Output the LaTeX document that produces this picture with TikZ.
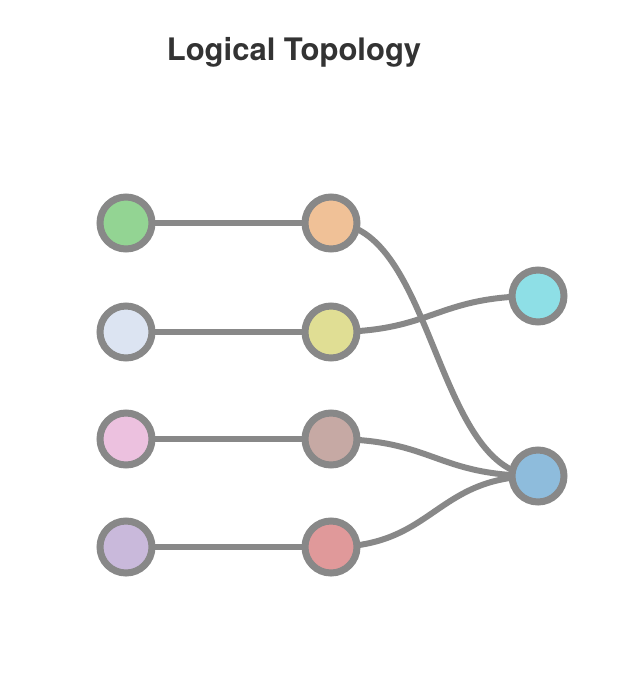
\documentclass[tikz,border=0pt]{standalone}
\usepackage{fontspec}
\setmainfont{TeX Gyre Heros}
\usetikzlibrary{backgrounds}
\definecolor{edgegray}{HTML}{888888}
\definecolor{titlegray}{HTML}{333333}
\definecolor{cgreen}{HTML}{93D493}
\definecolor{corange}{HTML}{F0C197}
\definecolor{clblue}{HTML}{DCE4F2}
\definecolor{cyellow}{HTML}{E0DE94}
\definecolor{cpink}{HTML}{ECC1DF}
\definecolor{cbrown}{HTML}{C6A9A4}
\definecolor{clav}{HTML}{C9B9DB}
\definecolor{cred}{HTML}{E0999A}
\definecolor{ccyan}{HTML}{8EDFE6}
\definecolor{cblue}{HTML}{8EBCDC}
\begin{document}
\begin{tikzpicture}[x=1pt,y=1pt,
  topo/.style={circle,draw=edgegray,line width=7pt,minimum size=52pt,inner sep=0pt},
  link/.style={draw=edgegray,line width=6pt}]
\useasboundingbox (0,0) rectangle (628,-678);
\node[anchor=base,font=\bfseries\fontsize{31}{36}\selectfont,text=titlegray] (title) at (294,-60) {Logical Topology};
\node[topo,fill=cgreen] (a1) at (126,-223) {};
\node[topo,fill=clblue] (a2) at (126,-332) {};
\node[topo,fill=cpink] (a3) at (126,-439) {};
\node[topo,fill=clav] (a4) at (126,-547) {};
\node[topo,fill=corange] (b1) at (331,-223) {};
\node[topo,fill=cyellow] (b2) at (331,-332) {};
\node[topo,fill=cbrown] (b3) at (331,-439) {};
\node[topo,fill=cred] (b4) at (331,-547) {};
\node[topo,fill=ccyan] (c1) at (538,-296) {};
\node[topo,fill=cblue] (c2) at (538,-476) {};
\coordinate (m) at (434.5,0);
\begin{scope}[on background layer]
\draw[link] (a1.center) -- (b1.center);
\draw[link] (a2.center) -- (b2.center);
\draw[link] (a3.center) -- (b3.center);
\draw[link] (a4.center) -- (b4.center);
\draw[link] (b1.center) .. controls (m |- b1.center) and (m |- c2.center) .. (c2.center);
\draw[link] (b2.center) .. controls (m |- b2.center) and (m |- c1.center) .. (c1.center);
\draw[link] (b3.center) .. controls (m |- b3.center) and (m |- c2.center) .. (c2.center);
\draw[link] (b4.center) .. controls (m |- b4.center) and (m |- c2.center) .. (c2.center);
\end{scope}
\end{tikzpicture}
\end{document}
